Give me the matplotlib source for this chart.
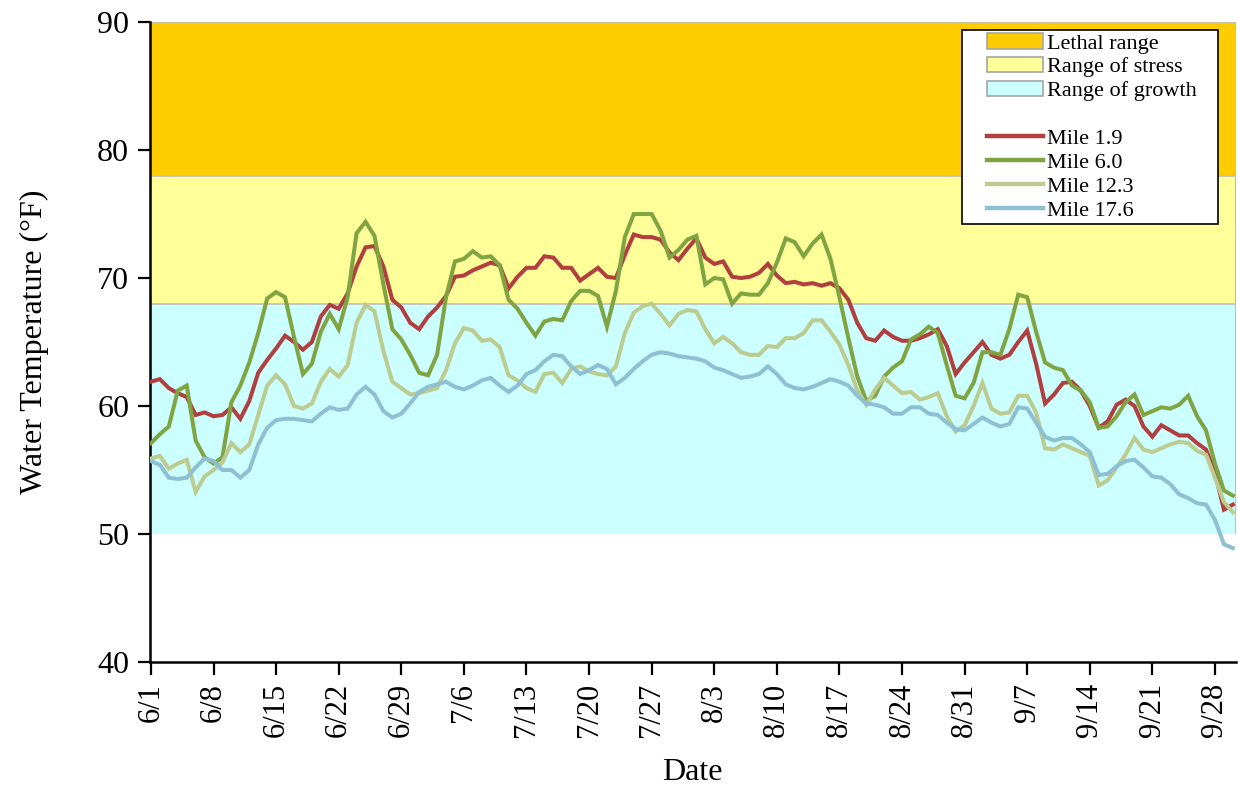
import matplotlib
matplotlib.use("Agg")
import matplotlib.pyplot as plt
from matplotlib.patches import Patch, Rectangle
from matplotlib.lines import Line2D

plt.rcParams['font.family'] = ['Liberation Serif', 'DejaVu Serif']

# ---------------- data ----------------
tick_labels = ['6/1', '6/8', '6/15', '6/22', '6/29', '7/6', '7/13', '7/20', '7/27',
               '8/3', '8/10', '8/17', '8/24', '8/31', '9/7', '9/14', '9/21', '9/28']

mile_1_9 = [61.9, 62.1, 61.4, 61.0, 60.7, 59.3, 59.5, 59.2, 59.3, 59.9,
            59.0, 60.4, 62.6, 63.6, 64.5, 65.5, 65.0, 64.4, 65.0, 67.0,
            67.9, 67.6, 68.8, 70.9, 72.4, 72.5, 70.9, 68.3, 67.7, 66.5,
            66.0, 67.0, 67.7, 68.6, 70.1, 70.2, 70.6, 70.9, 71.2, 71.0,
            69.2, 70.1, 70.8, 70.8, 71.7, 71.6, 70.8, 70.8, 69.8, 70.3,
            70.8, 70.1, 70.0, 71.8, 73.4, 73.2, 73.2, 73.0, 72.0, 71.4,
            72.3, 73.1, 71.6, 71.1, 71.3, 70.1, 70.0, 70.1, 70.4, 71.1,
            70.2, 69.6, 69.7, 69.5, 69.6, 69.4, 69.6, 69.2, 68.3, 66.5,
            65.3, 65.1, 65.9, 65.4, 65.1, 65.1, 65.3, 65.6, 66.0, 64.7,
            62.5, 63.4, 64.2, 65.0, 64.0, 63.7, 64.0, 65.0, 65.9, 63.3,
            60.2, 60.9, 61.8, 61.9, 61.2, 60.0, 58.3, 58.8, 60.1, 60.5,
            60.0, 58.4, 57.6, 58.5, 58.1, 57.7, 57.7, 57.1, 56.6, 54.8,
            51.9, 52.3]

mile_6_0 = [57.1, 57.8, 58.4, 61.2, 61.6, 57.3, 56.0, 55.5, 56.0, 60.3,
            61.6, 63.4, 65.7, 68.4, 68.9, 68.5, 65.4, 62.5, 63.3, 65.8,
            67.2, 66.0, 68.5, 73.5, 74.4, 73.3, 69.5, 66.0, 65.2, 64.0,
            62.6, 62.4, 64.0, 68.5, 71.3, 71.5, 72.1, 71.6, 71.7, 71.0,
            68.3, 67.6, 66.5, 65.5, 66.6, 66.8, 66.7, 68.2, 69.0, 69.0,
            68.6, 66.2, 69.0, 73.2, 75.0, 75.0, 75.0, 73.7, 71.6, 72.2,
            73.0, 73.3, 69.5, 70.0, 69.9, 68.0, 68.8, 68.7, 68.7, 69.6,
            71.2, 73.1, 72.8, 71.7, 72.7, 73.4, 71.5, 68.5, 65.3, 62.3,
            60.4, 60.8, 62.3, 63.0, 63.5, 65.2, 65.6, 66.2, 65.7, 63.2,
            60.8, 60.6, 61.8, 64.2, 64.2, 64.0, 66.0, 68.7, 68.5, 65.8,
            63.4, 63.0, 62.8, 61.6, 61.2, 60.3, 58.3, 58.4, 59.2, 60.3,
            60.9, 59.3, 59.6, 59.9, 59.8, 60.1, 60.8, 59.2, 58.1, 55.5,
            53.4, 53.0]

mile_12_3 = [55.9, 56.1, 55.1, 55.5, 55.8, 53.3, 54.5, 55.0, 55.6, 57.1,
             56.4, 57.0, 59.3, 61.6, 62.4, 61.7, 60.0, 59.8, 60.2, 61.9,
             62.9, 62.3, 63.2, 66.5, 67.9, 67.4, 64.3, 61.9, 61.4, 60.9,
             61.0, 61.2, 61.4, 62.8, 64.9, 66.1, 65.9, 65.1, 65.2, 64.6,
             62.4, 62.0, 61.4, 61.1, 62.5, 62.6, 61.8, 62.9, 63.1, 62.7,
             62.5, 62.4, 63.1, 65.7, 67.3, 67.8, 68.0, 67.2, 66.3, 67.2,
             67.5, 67.4, 66.0, 64.9, 65.4, 64.9, 64.2, 64.0, 64.0, 64.7,
             64.6, 65.3, 65.3, 65.7, 66.7, 66.7, 65.8, 64.8, 63.2, 61.2,
             60.1, 61.3, 62.2, 61.6, 61.0, 61.1, 60.5, 60.7, 61.0, 59.2,
             58.0, 58.5, 60.0, 61.8, 59.8, 59.4, 59.5, 60.8, 60.8, 59.5,
             56.7, 56.6, 57.0, 56.7, 56.4, 56.1, 53.8, 54.2, 55.2, 56.2,
             57.5, 56.6, 56.4, 56.7, 57.0, 57.2, 57.1, 56.5, 56.2, 54.4,
             52.5, 51.7]

mile_17_6 = [55.7, 55.4, 54.4, 54.3, 54.4, 55.2, 55.9, 55.7, 55.0, 55.0,
             54.4, 55.0, 57.0, 58.3, 58.9, 59.0, 59.0, 58.9, 58.8, 59.4,
             59.9, 59.7, 59.8, 60.9, 61.5, 60.9, 59.6, 59.1, 59.4, 60.2,
             61.1, 61.5, 61.7, 61.9, 61.5, 61.3, 61.6, 62.0, 62.2, 61.6,
             61.1, 61.6, 62.5, 62.8, 63.5, 64.0, 63.9, 63.1, 62.5, 62.8,
             63.2, 62.9, 61.7, 62.2, 62.9, 63.5, 64.0, 64.2, 64.1, 63.9,
             63.8, 63.7, 63.5, 63.0, 62.8, 62.5, 62.2, 62.3, 62.5, 63.1,
             62.5, 61.7, 61.4, 61.3, 61.5, 61.8, 62.1, 61.9, 61.6, 60.8,
             60.2, 60.1, 59.9, 59.4, 59.4, 59.9, 59.9, 59.4, 59.3, 58.7,
             58.2, 58.1, 58.6, 59.1, 58.7, 58.4, 58.6, 59.9, 59.8, 58.7,
             57.6, 57.3, 57.5, 57.5, 57.0, 56.4, 54.6, 54.7, 55.3, 55.7,
             55.8, 55.2, 54.5, 54.4, 53.9, 53.1, 52.8, 52.4, 52.3, 51.1,
             49.2, 48.9]

series_names = ['Mile 1.9', 'Mile 6.0', 'Mile 12.3', 'Mile 17.6']
series_values = [mile_1_9, mile_6_0, mile_12_3, mile_17_6]
series_colors = ['#B23F3F', '#80A442', '#BCCB90', '#8EC0D4']

band_names = ['Lethal range', 'Range of stress', 'Range of growth']
band_lows = [78, 68, 50]
band_highs = [90, 78, 68]
band_colors = ['#FFCC00', '#FFFF99', '#CCFFFF']

# ---------------- figure ----------------
fig = plt.figure(figsize=(12.38, 7.89), dpi=100)
ax = fig.add_axes([0.1212, 0.161, 0.8768, 0.811])

days = list(range(len(mile_1_9)))
x_right = len(days) - 0.7
for lo, hi, c in zip(band_lows, band_highs, band_colors):
    ax.axhspan(lo, hi, facecolor=c, edgecolor='none', zorder=0)
    ax.axhline(hi, color='#BFBFBF', linewidth=1.2, zorder=1)
ax.vlines([x_right], min(band_lows), max(band_highs), color='#BFBFBF',
          linewidth=1.5, zorder=1)

for vals, c, name in zip(series_values, series_colors, series_names):
    ax.plot(days, vals, color=c, linewidth=2.9, solid_joinstyle='miter',
            label=name, zorder=3)

ax.set_xlim(-0.1, x_right)
ax.set_ylim(40, 90)
ax.set_yticks(range(40, 91, 10))
ax.set_xticks(range(0, 7 * len(tick_labels), 7))
ax.set_xticklabels(tick_labels, rotation=90, fontsize=22)
ax.tick_params(axis='y', labelsize=23, direction='out', length=9, width=1.6, pad=6)
ax.tick_params(axis='x', direction='out', length=9, width=1.6, pad=6)

for s in ['top', 'right']:
    ax.spines[s].set_visible(False)
for s in ['left', 'bottom']:
    ax.spines[s].set_linewidth(1.8)

ax.set_xlabel('Date', fontsize=23, labelpad=15)
ax.set_ylabel('Water Temperature (°F)', fontsize=23, labelpad=35)

# legend: frame drawn separately to get the reference's wide padding
W, H = 1238.0, 789.0
fig.add_artist(Rectangle((962 / W, 1 - 224 / H), (1218 - 962) / W, (224 - 30) / H,
                         transform=fig.transFigure, facecolor='white',
                         edgecolor='black', linewidth=1.2, zorder=5))

handles = [Patch(facecolor=c, edgecolor='#A6A6A6', linewidth=1.2, label=n)
           for n, c in zip(band_names, band_colors)]
handles.append(Line2D([], [], color='none', label=' '))
handles += [Line2D([], [], color=c, linewidth=3.2, label=n)
            for n, c in zip(series_names, series_colors)]

leg = fig.legend(handles=handles, loc='upper left',
                 bbox_to_anchor=(987 / W, 1 - 33 / H), bbox_transform=fig.transFigure,
                 borderaxespad=0, borderpad=0, fontsize=16, frameon=False,
                 labelspacing=0.15, handlelength=2.5, handletextpad=0.22)
leg.set_zorder(6)

fig.savefig('out.png', dpi=100)
